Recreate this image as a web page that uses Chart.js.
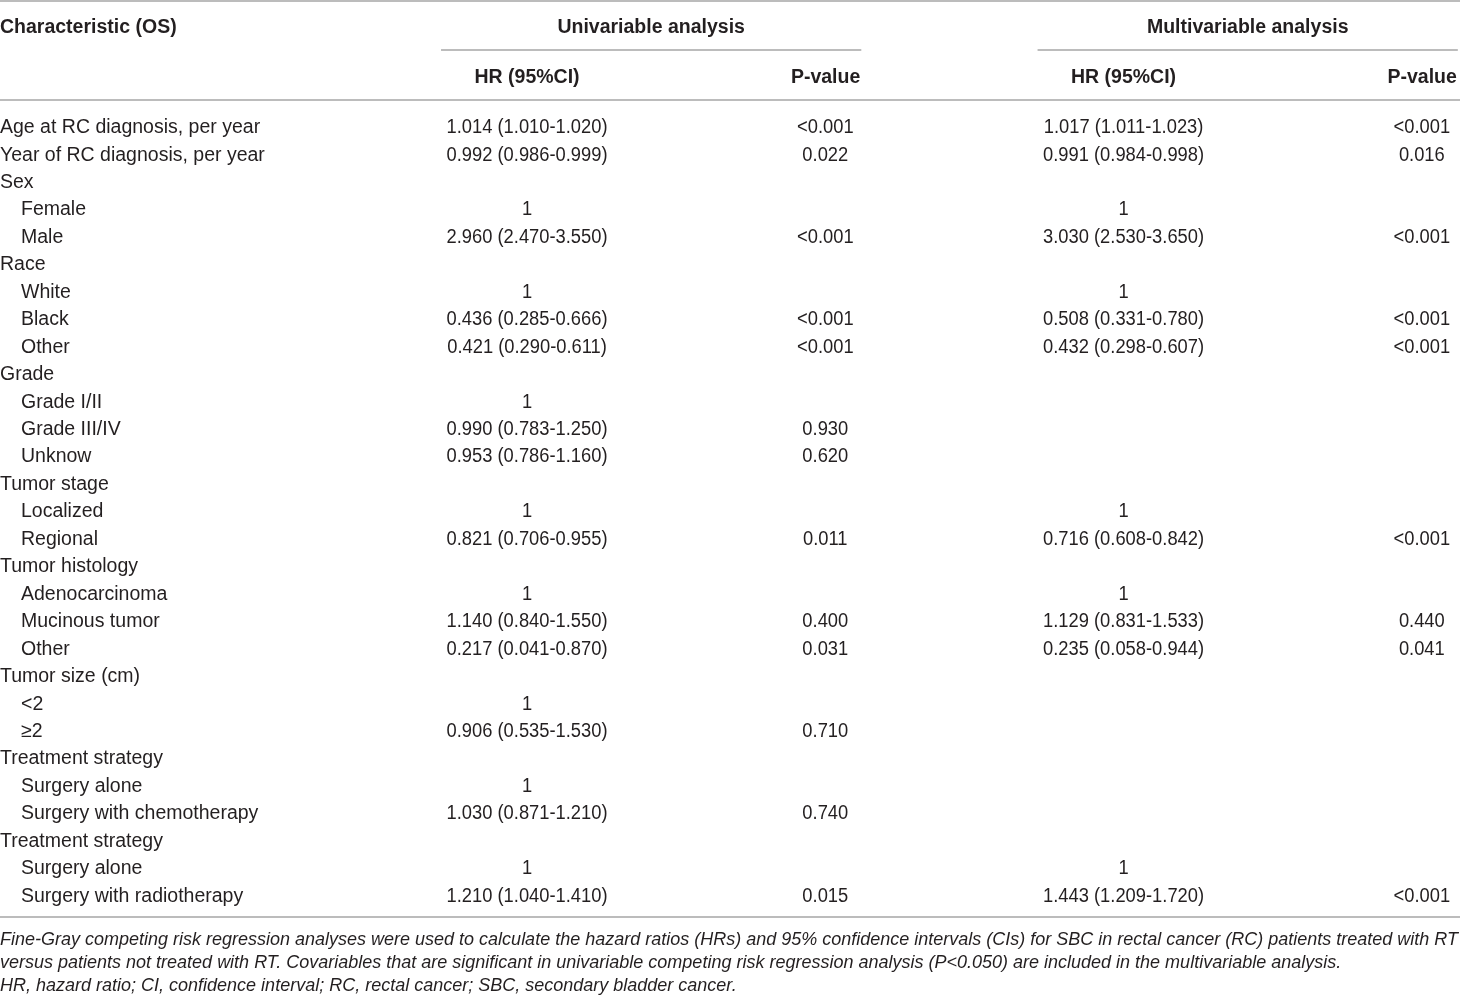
<!DOCTYPE html>
<html>
<head>
<meta charset="utf-8">
<script src="https://cdn.jsdelivr.net/npm/chart.js@4.4.1/dist/chart.umd.min.js"></script>
<style>
  html, body { margin: 0; padding: 0; background: #fff; }
  #wrap { width: 1460px; height: 1000px; position: relative; }
</style>
</head>
<body>
<div id="wrap"><canvas id="chart"></canvas></div>
<script>
// table content
const groupHeaders = ["Univariable analysis", "Multivariable analysis"];
const colHeaders = ["Characteristic (OS)", "HR (95%CI)", "P-value", "HR (95%CI)", "P-value"];

const characteristics = [
  "Age at RC diagnosis, per year", "Year of RC diagnosis, per year", "Sex", "Female", "Male",
  "Race", "White", "Black", "Other", "Grade", "Grade I/II", "Grade III/IV", "Unknow",
  "Tumor stage", "Localized", "Regional", "Tumor histology", "Adenocarcinoma", "Mucinous tumor",
  "Other", "Tumor size (cm)", "<2", "\u22652", "Treatment strategy", "Surgery alone",
  "Surgery with chemotherapy", "Treatment strategy", "Surgery alone", "Surgery with radiotherapy"
];
const rowLevel = [0, 0, 0, 1, 1, 0, 1, 1, 1, 0, 1, 1, 1, 0, 1, 1, 0, 1, 1, 1, 0, 1, 1, 0, 1, 1, 0, 1, 1];

const uniHR = [
  "1.014 (1.010-1.020)", "0.992 (0.986-0.999)", "", "1", "2.960 (2.470-3.550)",
  "", "1", "0.436 (0.285-0.666)", "0.421 (0.290-0.611)", "", "1", "0.990 (0.783-1.250)", "0.953 (0.786-1.160)",
  "", "1", "0.821 (0.706-0.955)", "", "1", "1.140 (0.840-1.550)",
  "0.217 (0.041-0.870)", "", "1", "0.906 (0.535-1.530)", "", "1",
  "1.030 (0.871-1.210)", "", "1", "1.210 (1.040-1.410)"
];
const uniP = [
  "<0.001", "0.022", "", "", "<0.001",
  "", "", "<0.001", "<0.001", "", "", "0.930", "0.620",
  "", "", "0.011", "", "", "0.400",
  "0.031", "", "", "0.710", "", "",
  "0.740", "", "", "0.015"
];
const multiHR = [
  "1.017 (1.011-1.023)", "0.991 (0.984-0.998)", "", "1", "3.030 (2.530-3.650)",
  "", "1", "0.508 (0.331-0.780)", "0.432 (0.298-0.607)", "", "", "", "",
  "", "1", "0.716 (0.608-0.842)", "", "1", "1.129 (0.831-1.533)",
  "0.235 (0.058-0.944)", "", "", "", "", "",
  "", "", "1", "1.443 (1.209-1.720)"
];
const multiP = [
  "<0.001", "0.016", "", "", "<0.001",
  "", "", "<0.001", "<0.001", "", "", "", "",
  "", "", "<0.001", "", "", "0.440",
  "0.041", "", "", "", "", "",
  "", "", "", "<0.001"
];

const footnotes = [
  "Fine-Gray competing risk regression analyses were used to calculate the hazard ratios (HRs) and 95% confidence intervals (CIs) for SBC in rectal cancer (RC) patients treated with RT",
  "versus patients not treated with RT. Covariables that are significant in univariable competing risk regression analysis (P<0.050) are included in the multivariable analysis.",
  "HR, hazard ratio; CI, confidence interval; RC, rectal cancer; SBC, secondary bladder cancer."
];

const textColor = "#231f20";
const ruleColor = "#a6a6a6";
const fontFamily = "'Liberation Sans', Arial, Helvetica, sans-serif";

const tablePlugin = {
  id: "tablePlugin",
  afterDraw(chart) {
    const ctx = chart.ctx;
    const x = chart.scales.x;
    const y = chart.scales.y;
    const area = chart.chartArea;
    const W = chart.width;
    const dy = 2; // baseline nudge so glyphs sit like the original

    function rule(x1, x2, yy) {
      ctx.save();
      ctx.strokeStyle = ruleColor;
      ctx.lineWidth = 1.5;
      ctx.beginPath();
      ctx.moveTo(x1, yy);
      ctx.lineTo(x2, yy);
      ctx.stroke();
      ctx.restore();
    }
    function text(str, px, py, align, font, squeeze) {
      if (!str) return;
      ctx.save();
      ctx.font = font;
      ctx.fillStyle = textColor;
      ctx.textBaseline = "middle";
      ctx.textAlign = align;
      ctx.translate(px, py + dy);
      if (squeeze) ctx.scale(squeeze, 1);
      ctx.fillText(str, 0, 0);
      ctx.restore();
    }

    const bold = "bold 19.5px " + fontFamily;
    const normal = "19.5px " + fontFamily;
    const italic = "italic 18px " + fontFamily;
    const top = area.top;

    // header rules and text
    rule(0, W, top - 111);
    rule(0, W, top - 12);
    text(colHeaders[0], area.left, top - 86, "left", bold);
    const groups = [[1, 2], [3, 4]];
    groups.forEach((g, i) => {
      const left = x.getPixelForValue(g[0]) - 86;
      const right = Math.min(W, x.getPixelForValue(g[1]) + 36);
      text(groupHeaders[i], (left + right) / 2, top - 86, "center", bold);
      rule(left, right, top - 62);
    });
    text(colHeaders[1], x.getPixelForValue(1), top - 36, "center", bold);
    text(colHeaders[2], x.getPixelForValue(2) + 35, top - 36, "right", bold);
    text(colHeaders[3], x.getPixelForValue(3), top - 36, "center", bold);
    text(colHeaders[4], x.getPixelForValue(4) + 35, top - 36, "right", bold);

    // body rows
    const cols = [uniHR, uniP, multiHR, multiP];
    characteristics.forEach((label, i) => {
      const py = y.getPixelForValue(i);
      text(label, area.left + rowLevel[i] * 21, py, "left", normal);
      cols.forEach((col, c) => {
        text(col[i], x.getPixelForValue(c + 1), py, "center", normal, 0.94);
      });
    });

    // bottom rule and footnotes
    rule(0, W, area.bottom + 9);
    footnotes.forEach((line, i) => {
      ctx.save();
      ctx.font = italic;
      ctx.fillStyle = textColor;
      ctx.textBaseline = "middle";
      ctx.textAlign = "left";
      ctx.fillText(line, area.left, area.bottom + 30 + dy + i * 23, W - 2);
      ctx.restore();
    });
  }
};

new Chart(document.getElementById("chart"), {
  type: "scatter",
  data: { labels: characteristics, datasets: [] },
  options: {
    responsive: true,
    maintainAspectRatio: false,
    animation: false,
    devicePixelRatio: 1,
    layout: { padding: { top: 112, bottom: 92, left: 0, right: 0 } },
    plugins: { legend: { display: false }, tooltip: { enabled: false } },
    scales: {
      x: { type: "linear", display: false, min: -0.767, max: 4.128 },
      y: { type: "category", display: false, offset: true, min: 0, max: characteristics.length - 1 }
    }
  },
  plugins: [tablePlugin]
});
</script>
</body>
</html>
